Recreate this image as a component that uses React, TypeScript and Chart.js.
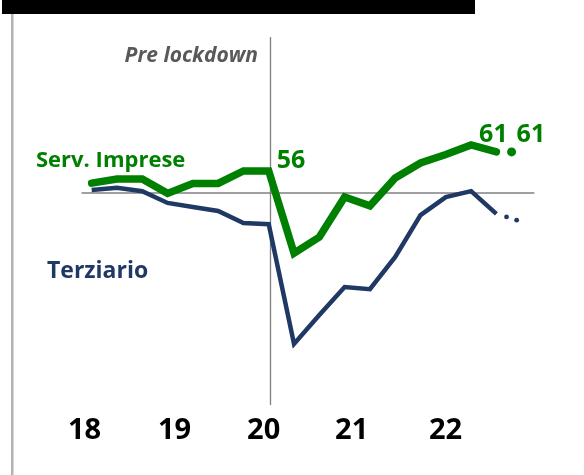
import React, { useEffect, useRef } from "react";
import { Chart, registerables } from "chart.js";

Chart.register(...registerables);

// Quarterly index values (Q1 2018 ... Q1 2022)
const servImprese = [52.7, 53.8, 53.8, 49.9, 52.6, 52.6, 56.0, 56.0, 33.6, 38.0, 48.9, 46.5, 54.1, 58.2, 60.5, 63.1, 61.2];
const terziario = [50.8, 51.4, 50.5, 47.3, 46.2, 45.1, 41.8, 41.5, 8.9, 16.8, 24.4, 23.8, 32.6, 44.0, 48.9, 50.5, 44.3];
// projections
const servProjX = [16.6];
const servProjY = [61.2];
const terzProjX = [16.4, 16.8];
const terzProjY = [43.5, 42.6];

const xTickPos = [-0.28, 3.28, 6.8, 10.28, 13.99];
const xTickLabels = ["18", "19", "20", "21", "22"];

const threshold = 50;
const lockdownX = 7.05;

const GREEN = "#008000";
const NAVY = "#1f3864";
const FONT = "'Open Sans', sans-serif";

export default function App() {
  const ref = useRef<HTMLCanvasElement | null>(null);

  useEffect(() => {
    document.body.style.margin = "0";
    const canvas = ref.current!;
    const deco = {
      id: "deco",
      beforeDraw(chart: any) {
        const ctx = chart.ctx;
        const x = chart.scales.x;
        const y = chart.scales.y;
        ctx.save();
        ctx.fillStyle = "#fff";
        ctx.fillRect(0, 0, chart.width, chart.height);
        // top bar
        ctx.fillStyle = "#000";
        ctx.fillRect(2, 0, 473, 14);
        // left rule
        ctx.fillStyle = "#b3b3b3";
        ctx.fillRect(11, 14, 2.5, chart.height - 14);
        // threshold line
        ctx.strokeStyle = "#a0a0a0";
        ctx.lineWidth = 2;
        ctx.beginPath();
        ctx.moveTo(x.getPixelForValue(-0.4), y.getPixelForValue(threshold));
        ctx.lineTo(x.getPixelForValue(17.5), y.getPixelForValue(threshold));
        ctx.stroke();
        // lockdown line
        const lx = Math.round(x.getPixelForValue(lockdownX)) + 0.5;
        ctx.strokeStyle = "#7f7f7f";
        ctx.lineWidth = 1.3;
        ctx.beginPath();
        ctx.moveTo(lx, 37);
        ctx.lineTo(lx, 405);
        ctx.stroke();
        ctx.restore();
      },
      afterDraw(chart: any) {
        const ctx = chart.ctx;
        const x = chart.scales.x;
        const y = chart.scales.y;
        ctx.save();
        ctx.textBaseline = "alphabetic";
        ctx.fillStyle = GREEN;
        ctx.font = `bold 22px ${FONT}`;
        ctx.textAlign = "left";
        ctx.fillText("Serv. Imprese", 36, 167);
        ctx.fillStyle = NAVY;
        ctx.font = `bold 23px ${FONT}`;
        ctx.fillText("Terziario", 47, 278);
        ctx.fillStyle = "#595959";
        ctx.font = `italic bold 21px ${FONT}`;
        ctx.textAlign = "right";
        ctx.fillText("Pre lockdown", 258, 62);
        ctx.fillStyle = GREEN;
        ctx.font = `bold 25px ${FONT}`;
        ctx.textAlign = "left";
        ctx.fillText("56", x.getPixelForValue(7) + 8, y.getPixelForValue(servImprese[7]) - 3);
        const lastI = servImprese.length - 1;
        ctx.textAlign = "center";
        ctx.fillText("61", x.getPixelForValue(lastI) - 3, y.getPixelForValue(servImprese[lastI]) - 10);
        ctx.textAlign = "left";
        ctx.fillText("61", x.getPixelForValue(servProjX[0]) + 5, y.getPixelForValue(servProjY[0]) - 10);
        ctx.restore();
      },
    };

    const chart = new Chart(canvas, {
      type: "line",
      data: {
        datasets: [
          {
            data: servImprese.map((v, i) => ({ x: i, y: v })),
            borderColor: GREEN,
            borderWidth: 7.5,
            pointRadius: 0,
            borderCapStyle: "round",
            tension: 0,
          },
          {
            data: servProjX.map((v, i) => ({ x: v, y: servProjY[i] })),
            borderColor: GREEN,
            backgroundColor: GREEN,
            showLine: false,
            pointRadius: 4.5,
            pointBorderWidth: 0,
          },
          {
            data: terziario.map((v, i) => ({ x: i, y: v })),
            borderColor: NAVY,
            borderWidth: 4.5,
            pointRadius: 0,
            tension: 0,
          },
          {
            data: terzProjX.map((v, i) => ({ x: v, y: terzProjY[i] })),
            borderColor: NAVY,
            backgroundColor: NAVY,
            showLine: false,
            pointRadius: 2.4,
            pointBorderWidth: 0,
          },
        ],
      },
      plugins: [deco],
      options: {
        responsive: false,
        animation: false,
        layout: { padding: { top: 30, left: 79, right: 37, bottom: 0 } },
        plugins: { legend: { display: false }, tooltip: { enabled: false } },
        scales: {
          x: {
            type: "linear",
            min: -0.5,
            max: 18,
            grid: { display: false, drawTicks: false },
            border: { display: false },
            afterBuildTicks: (s: any) => {
              s.ticks = xTickPos.map((v) => ({ value: v }));
            },
            afterFit: (s: any) => {
              s.height = 65;
            },
            ticks: {
              autoSkip: false,
              maxRotation: 0,
              padding: 3,
              color: "#000",
              font: { family: FONT, weight: "bold", size: 29 },
              callback: (_v: any, idx: number) => xTickLabels[idx],
            },
          },
          y: {
            display: false,
            min: -9.1,
            max: 94.4,
          },
        },
      },
    } as any);
    return () => chart.destroy();
  }, []);

  return (
    <div style={{ position: "absolute", left: 0, top: 0, width: 584, height: 475 }}>
      <canvas ref={ref} width={584} height={475} style={{ width: 584, height: 475 }} />
    </div>
  );
}
